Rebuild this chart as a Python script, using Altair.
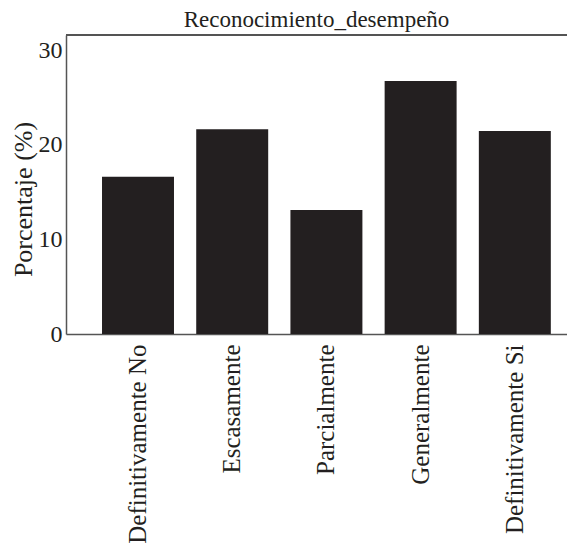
import altair as alt
import pandas as pd

categories = ["Definitivamente No", "Escasamente", "Parcialmente", "Generalmente", "Definitivamente Si"]
values = [16.65, 21.66, 13.12, 26.77, 21.48]
y_ticks = [0, 10, 20, 30]
y_max = 31.64

df = pd.DataFrame({"cat": categories, "pct": values})

FONT = "Liberation Serif"
TXT = "#231f20"
AX = "#555555"
W, H = 501, 299

bars = alt.Chart(df).mark_bar(color=TXT).encode(
    x=alt.X("cat:N", sort=categories, title=None,
            scale=alt.Scale(paddingInner=0.236, paddingOuter=0.277, align=0.69),
            axis=alt.Axis(labelAngle=-90, labelFont=FONT, labelFontSize=25, labelColor=TXT,
                          ticks=False, labelPadding=10, domainColor=AX, domainWidth=1.5,
                          labelAlign="right", labelBaseline="middle", labelLimit=0)),
    y=alt.Y("pct:Q", title="Porcentaje (%)", scale=alt.Scale(domain=[0, y_max], nice=False),
            axis=alt.Axis(values=y_ticks, grid=False, ticks=False, labelFont=FONT, labelFontSize=24,
                          labelColor=TXT, labelPadding=4, titleFont=FONT, titleFontSize=26,
                          titleFontWeight="normal", titleColor=TXT, titlePadding=2, titleY=164,
                          domainColor=AX, domainWidth=1.5)),
)

top = alt.Chart(df).mark_rule(color=AX, strokeWidth=1.5).encode(
    x=alt.value(0), x2=alt.value(W), y=alt.value(0)
)

chart = alt.layer(bars, top).properties(
    width=W, height=H,
    title=alt.TitleParams("Reconocimiento_desempeño", font=FONT, fontSize=23, fontWeight="normal",
                          color=TXT, offset=2),
    autosize="none",
    padding={"left": 58, "top": 27, "right": 0, "bottom": 213},
).configure_view(stroke=None)

chart.save("out.html", embed_options={"renderer": "svg", "actions": False})
